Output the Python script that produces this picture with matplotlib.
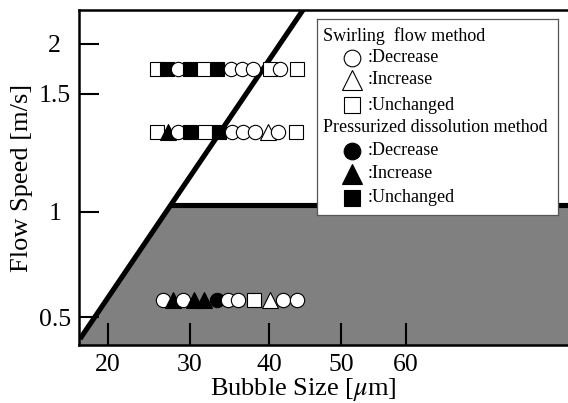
import numpy as np
import matplotlib
matplotlib.use("Agg")
import matplotlib.pyplot as plt
from matplotlib.patches import Polygon

plt.rcParams['font.family'] = ['Liberation Serif', 'DejaVu Serif']
plt.rcParams['mathtext.fontset'] = 'stix'

# ---------------- data ----------------
x_ticks = [20, 30, 40, 50, 60]
y_ticks = [0.5, 1.0, 1.5, 2.0]
y_tick_labels = ['0.5', '1', '1.5', '2']

# axis scale (value -> relative position)
x_scale_vals = [16.46, 20, 30, 40, 50, 60, 84.9]
x_scale_pos = [0, 29, 111, 190, 262, 327, 489]
y_scale_vals = [0.367, 0.5, 1.0, 1.5, 2.0, 2.34]
y_scale_pos = [0, 28, 133, 251, 301, 335]

# boundary line
diag_x = [16.58, 44.72]
diag_y = [0.396, 2.34]
flat_x = [27.66, 84.9]
flat_y = [1.03, 1.03]

# marker rows: (flow speed, bubble sizes, category codes)
row1_speed = 1.75
row1_size = [26.0, 27.2, 28.5, 30.0, 31.8, 33.4, 35.2, 36.6, 38.0, 40.1, 41.5, 43.9]
row1_code = ['SU', 'PU', 'SD', 'PU', 'SU', 'PU', 'SD', 'SD', 'SD', 'SU', 'SD', 'SU']

row2_speed = 1.34
row2_size = [26.0, 27.3, 28.5, 30.0, 31.9, 33.7, 35.3, 36.7, 38.2, 39.9, 41.2, 43.7]
row2_code = ['SU', 'PI', 'SD', 'PU', 'SU', 'PU', 'SD', 'SD', 'SD', 'SI', 'SD', 'SU']

row3_speed = 0.58
row3_size = [26.7, 27.9, 29.1, 30.5, 31.8, 33.4, 34.8, 36.1, 38.1, 40.1, 41.9, 43.9]
row3_code = ['SD', 'PI', 'SD', 'PI', 'PI', 'PD', 'SD', 'SD', 'SU', 'SI', 'SD', 'SD']

legend_groups = ['Swirling  flow method', 'Pressurized dissolution method']
legend_items = [':Decrease', ':Increase', ':Unchanged']

# ---------------- styles ----------------
shape = {'D': 'o', 'I': '^', 'U': 's'}


def mstyle(code):
    filled = code[0] == 'P'
    return dict(marker=shape[code[1]],
                mfc='black' if filled else 'white',
                mec='black', mew=0.8, ls='none')


fig = plt.figure(figsize=(5.68, 4.03), dpi=100)
ax = fig.add_axes([79/568, (403-345)/403, (568-79)/568, (345-10)/403])

ax.set_xscale('function', functions=(lambda v: np.interp(v, x_scale_vals, x_scale_pos),
                                     lambda p: np.interp(p, x_scale_pos, x_scale_vals)))
ax.set_yscale('function', functions=(lambda v: np.interp(v, y_scale_vals, y_scale_pos),
                                     lambda p: np.interp(p, y_scale_pos, y_scale_vals)))
ax.set_xlim(x_scale_vals[0], x_scale_vals[-1])
ax.set_ylim(y_scale_vals[0], y_scale_vals[-1])

# gray region
poly = [(x_scale_vals[0], y_scale_vals[0]), (x_scale_vals[0], diag_y[0]),
        (flat_x[0], flat_y[0]), (flat_x[1], flat_y[1]), (flat_x[1], y_scale_vals[0])]
ax.add_patch(Polygon(poly, closed=True, facecolor='#808080', edgecolor='none', zorder=1))

ax.plot(diag_x, diag_y, color='black', lw=3.7, solid_capstyle='butt', zorder=2)
ax.plot(flat_x, flat_y, color='black', lw=3.7, solid_capstyle='butt', zorder=2)

for spd, sizes, codes in [(row1_speed, row1_size, row1_code),
                          (row2_speed, row2_size, row2_code),
                          (row3_speed, row3_size, row3_code)]:
    for s, c in zip(sizes, codes):
        ax.plot([s], [spd], ms=11 if c[1] == 'I' else 10.3, zorder=3, **mstyle(c))

ax.set_xticks(x_ticks)
ax.set_xticklabels([str(t) for t in x_ticks])
ax.set_yticks(y_ticks)
ax.set_yticklabels(y_tick_labels)
ax.minorticks_off()
ax.tick_params(axis='x', direction='in', length=16, width=1.5, labelsize=18.5, pad=6.5)
ax.tick_params(axis='y', direction='in', length=14.5, width=1.5, labelsize=18.5, pad=17.5)
for lab in ax.get_yticklabels():
    lab.set_ha('center')

for side in ['left', 'bottom', 'top']:
    ax.spines[side].set_linewidth(1.8)
ax.spines['right'].set_visible(False)

fig.text(22/568, 1 - 178/403, 'Flow Speed [m/s]', rotation=90, fontsize=19,
         ha='center', va='center')
fig.text(303/568, 1 - 395/403, r'Bubble Size [$\mu$m]', fontsize=19,
         ha='center', va='baseline')

# ---------------- legend box ----------------
lax = fig.add_axes([317/568, (403-215)/403, 241/568, 196/403], zorder=5)
lax.set_xlim(0, 241)
lax.set_ylim(196, 0)
lax.set_xticks([])
lax.set_yticks([])
lax.set_facecolor('white')
for sp in lax.spines.values():
    sp.set_linewidth(0.9)
    sp.set_edgecolor('#555555')

group_y = [17, 109]
item_y = [[39, 61, 86], [132, 155, 179]]
for g, (gname, prefix) in enumerate(zip(legend_groups, ['S', 'P'])):
    lax.text(6, group_y[g], gname, fontsize=13, ha='left', va='center')
    for i, (item, key) in enumerate(zip(legend_items, ['D', 'I', 'U'])):
        code = prefix + key
        lax.plot([35], [item_y[g][i]], ms=14 if key == 'I' else 12, **mstyle(code))
        lax.text(51, item_y[g][i], item, fontsize=13, ha='left', va='center')

fig.savefig('out.png', dpi=100)
